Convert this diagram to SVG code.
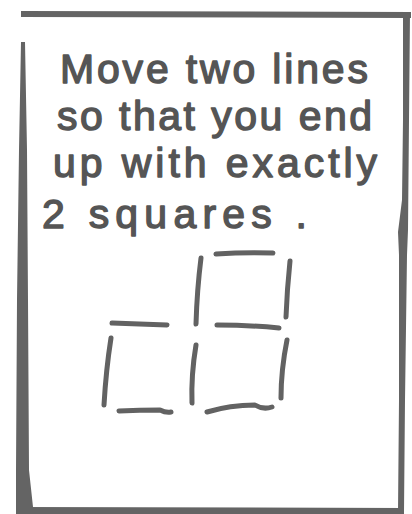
<svg xmlns="http://www.w3.org/2000/svg" width="412" height="514" viewBox="0 0 412 514">
<style>
.frame{fill:#646464;stroke:none}
.hand{font-family:"Liberation Sans","DejaVu Sans",sans-serif;font-size:41px;fill:#555555;stroke:#555555;stroke-width:1.4px;stroke-linejoin:round}
.stick{fill:none;stroke:#626262;stroke-width:5;stroke-linecap:round;stroke-linejoin:round}
</style>
<rect width="412" height="514" fill="#ffffff"/>
<g id="frame">
<polygon class="frame" points="21,11 411,12 411,18 21,17"/>
<polygon class="frame" points="403,13 410,13 409,120 408,230 407,255 405,400 404,512 398,512 399,400 399,255 398,232 402,200 403,120"/>
<polygon class="frame" points="21,42 25,42 27,150 28,300 29,470 33,507 16,512 16,470 17,300 19,150"/>
<polygon class="frame" points="16,507 404,508 404,514 16,514"/>
</g>
<g id="text">
<text class="hand" x="60" y="83" textLength="308" lengthAdjust="spacing">Move two lines</text>
<text class="hand" x="57" y="130" textLength="315" lengthAdjust="spacing">so that you end</text>
<text class="hand" x="53" y="177" textLength="324" lengthAdjust="spacing">up with exactly</text>
<text class="hand" x="42" y="228" textLength="265" lengthAdjust="spacing">2 squares .</text>
</g>
<g id="sticks">
<path id="s1" class="stick" d="M216,254 Q245,252 273,253"/>
<path id="s2" class="stick" d="M201,258 Q197,290 196,324"/>
<path id="s3" class="stick" d="M290,261 Q287,290 286,317"/>
<path id="s4" class="stick" d="M217,325 Q250,325 279,328"/>
<path id="s5" class="stick" d="M112,323 Q140,324 167,325"/>
<path id="s6" class="stick" d="M111,338 Q106,370 104,405"/>
<path id="s7" class="stick" d="M196,345 Q191,375 192,403"/>
<path id="s8" class="stick" d="M287,340 Q281,370 281,398"/>
<path id="s9" class="stick" d="M119,411 Q140,410 160,410 Q166,413 171,412"/>
<path id="s10" class="stick" d="M207,412 Q230,405 255,405 Q263,410 272,407"/>
</g>
</svg>
